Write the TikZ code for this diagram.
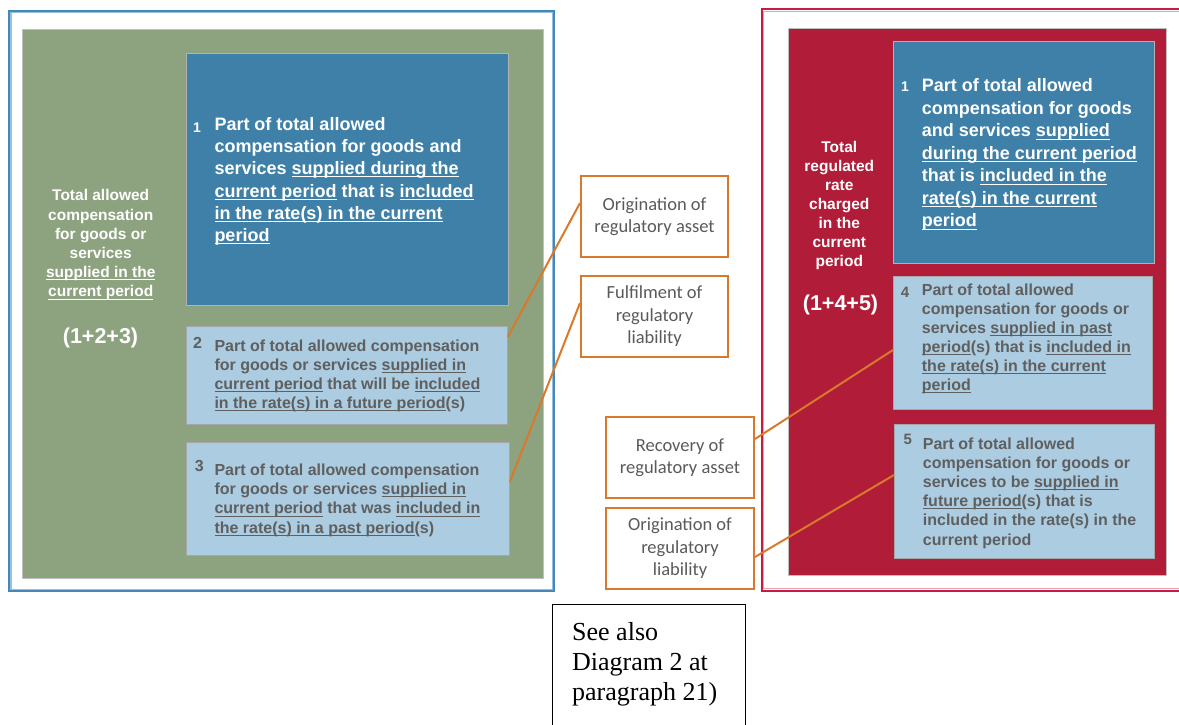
\documentclass[tikz,border=0pt]{standalone}
\usepackage{fontspec}
\setmainfont{Liberation Sans}
\newfontfamily\calib{Carlito}
\newfontfamily\timesf{Liberation Serif}
\newsavebox\ulnbox
\newcommand\uline[1]{\sbox\ulnbox{#1}\rlap{\rule[-2.6pt]{\wd\ulnbox}{0.9pt}}\usebox\ulnbox}
\definecolor{frameblue}{RGB}{70,135,185}
\definecolor{frameblueL}{RGB}{150,192,222}
\definecolor{framered}{RGB}{195,30,65}
\definecolor{frameredL}{RGB}{238,160,178}
\definecolor{panelgreen}{RGB}{141,162,126}
\definecolor{panelred}{RGB}{177,29,56}
\definecolor{boxdark}{RGB}{62,128,167}
\definecolor{boxlight}{RGB}{172,204,225}
\definecolor{linkorange}{RGB}{216,121,43}
\definecolor{txtgray}{RGB}{95,95,95}
\definecolor{midgray}{RGB}{90,90,90}
\newcommand\fsz[2]{\fontsize{#1}{#2}\selectfont}
\begin{document}
\begin{tikzpicture}[x=1pt,y=-1pt,
  darkbox/.style={draw=black!30,line width=0.8pt,fill=boxdark,inner sep=0pt,anchor=north west},
  lightbox/.style={draw=black!35,line width=0.8pt,fill=boxlight,inner sep=0pt,anchor=north west},
  orangebox/.style={draw=linkorange,line width=2pt,fill=white,inner sep=0pt,anchor=north west,
    align=center,text=midgray,font=\calib\fsz{18.5}{22.5}},
  link/.style={draw=linkorange,line width=2pt},
  whitetxt/.style={inner sep=0pt,text=white},
  graytxt/.style={inner sep=0pt,text=txtgray},
]
\useasboundingbox (0,0) rectangle (1179,725);

% ---------- left panel ----------
\draw[frameblue,line width=2pt] (9,11) rectangle (554,591);
\draw[frameblueL,line width=1.4pt] (10.8,12.8) rectangle (552.2,589.2);
\node[draw=black!25,line width=1pt,fill=panelgreen,inner sep=0pt,anchor=north west,
  minimum width=521pt,minimum height=549pt] (greenpanel) at (22,29) {};

\node[darkbox,minimum width=322pt,minimum height=252pt] (b1L) at (186,53) {};
\node[lightbox,minimum width=321pt,minimum height=98pt] (b2) at (186,326) {};
\node[lightbox,minimum width=323pt,minimum height=113pt] (b3) at (186,442) {};

\node[whitetxt,anchor=north,align=center,font=\bfseries\fsz{15.5}{19.2}] (labelL) at (100.7,189.4)
 {Total allowed\\compensation\\for goods or\\services\\\uline{supplied in the}\\\uline{current period}};
\node[whitetxt,anchor=base,font=\bfseries\fsz{21.5}{25}] (sumL) at (100.5,343) {(1+2+3)};

\node[whitetxt,anchor=base west,font=\bfseries\fsz{14}{16}] (n1L) at (193,132.7) {1};
\node[whitetxt,anchor=north west,align=left,font=\bfseries\fsz{18}{22.3}] (t1L) at (214.3,116.9)
 {Part of total allowed\\compensation for goods and\\services \uline{supplied during the}\\
  \uline{current period} that is \uline{included}\\\uline{in the rate(s) in the current}\\\uline{period}};

\node[graytxt,anchor=base west,font=\bfseries\fsz{16}{18}] (n2) at (193,348.3) {2};
\node[graytxt,anchor=north west,align=left,font=\bfseries\fsz{16}{18.9}] (t2) at (214.3,340)
 {Part of total allowed compensation\\for goods or services \uline{supplied in}\\
  \uline{current period} that will be \uline{included}\\\uline{in the rate(s) in a future period}(s)};

\node[graytxt,anchor=base west,font=\bfseries\fsz{16}{18}] (n3) at (194.6,471.7) {3};
\node[graytxt,anchor=north west,align=left,font=\bfseries\fsz{16}{19.4}] (t3) at (214.3,463.3)
 {Part of total allowed compensation\\for goods or services \uline{supplied in}\\
  \uline{current period} that was \uline{included in}\\\uline{the rate(s) in a past period}(s)};

% ---------- right panel ----------
\draw[framered,line width=2pt] (761.5,9.5) -- (1200,9.5);
\draw[framered,line width=2pt] (761.5,8.5) -- (761.5,590.5) -- (1200,590.5);
\draw[frameredL,line width=1.4pt] (1200,11.3) -- (763.3,11.3) -- (763.3,588.7) -- (1200,588.7);
\node[draw=black!25,line width=1pt,fill=panelred,inner sep=0pt,anchor=north west,
  minimum width=378pt,minimum height=547pt] (redpanel) at (788,28) {};

\node[darkbox,minimum width=261pt,minimum height=222pt] (b1R) at (893,41) {};
\node[lightbox,minimum width=259pt,minimum height=133pt] (b4) at (893,276) {};
\node[lightbox,minimum width=260pt,minimum height=134pt] (b5) at (894,424) {};

\node[whitetxt,anchor=north,align=center,font=\bfseries\fsz{15.5}{19}] (labelR) at (839.3,141.4)
 {Total\\regulated\\rate\\charged\\in the\\current\\period};
\node[whitetxt,anchor=base,font=\bfseries\fsz{21.5}{25}] (sumR) at (840.5,310) {(1+4+5)};

\node[whitetxt,anchor=base west,font=\bfseries\fsz{14}{16}] (n1R) at (901,91.7) {1};
\node[whitetxt,anchor=north west,align=left,font=\bfseries\fsz{18}{22.5}] (t1R) at (921.7,78.6)
 {Part of total allowed\\compensation for goods\\and services \uline{supplied}\\
  \uline{during the current period}\\that is \uline{included in the}\\\uline{rate(s) in the current}\\\uline{period}};

\node[graytxt,anchor=base west,font=\bfseries\fsz{15}{17}] (n4) at (900.7,297.3) {4};
\node[graytxt,anchor=north west,align=left,font=\bfseries\fsz{16}{19.1}] (t4) at (921.7,283.3)
 {Part of total allowed\\compensation for goods or\\services \uline{supplied in past}\\
  \uline{period}(s) that is \uline{included in}\\\uline{the rate(s) in the current}\\\uline{period}};

\node[graytxt,anchor=base west,font=\bfseries\fsz{15}{17}] (n5) at (903.3,444.3) {5};
\node[graytxt,anchor=north west,align=left,font=\bfseries\fsz{16}{19.2}] (t5) at (922.7,437.3)
 {Part of total allowed\\compensation for goods or\\services to be \uline{supplied in}\\
  \uline{future period}(s) that is\\included in the rate(s) in the\\current period};

% ---------- middle boxes ----------
\node[orangebox,minimum width=147pt,minimum height=81pt] (oa) at (580,175)
 {Origination of\\regulatory asset};
\node[orangebox,minimum width=147pt,minimum height=81pt] (fl) at (580,275)
 {Fulfilment of\\regulatory\\liability};
\node[orangebox,minimum width=148pt,minimum height=81pt] (ra) at (605,416)
 {Recovery of\\regulatory asset};
\node[orangebox,minimum width=148pt,minimum height=81pt] (ol) at (605,507)
 {Origination of\\regulatory\\liability};

\draw[link] ([yshift=-11pt]b2.north east) -- ([yshift=-28pt]oa.north west);
\draw[link] ([yshift=-40pt]b3.north east) -- ([yshift=-28pt]fl.north west);
\draw[link] ([yshift=-23pt]ra.north east) -- ([yshift=-74pt]b4.north west);
\draw[link] ([yshift=-50pt]ol.north east) -- ([yshift=-51pt]b5.north west);

% ---------- bottom note ----------
\node[draw=black,line width=1pt,inner sep=0pt,anchor=north west,minimum width=193pt,minimum height=140pt] (note) at (552,604) {};
\node[inner sep=0pt,anchor=north west,align=left,font=\timesf\fsz{26}{30}] (notetxt) at (572,622.2)
 {See also\\Diagram 2 at\\paragraph 21)};
\end{tikzpicture}
\end{document}
